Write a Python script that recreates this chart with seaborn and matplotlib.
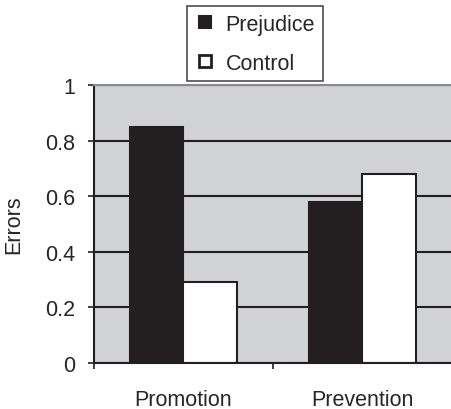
import matplotlib
matplotlib.use("Agg")
import matplotlib.pyplot as plt
from matplotlib.lines import Line2D
import seaborn as sns
import pandas as pd

categories = ["Promotion", "Prevention"]
series = ["Prejudice", "Control"]
prejudice = [0.85, 0.58]
control = [0.29, 0.68]
y_ticks = [0, 0.2, 0.4, 0.6, 0.8, 1]
y_tick_labels = ["0", "0.2", "0.4", "0.6", "0.8", "1"]

df = pd.DataFrame({
    "Condition": categories * 2,
    "Group": [series[0]] * 2 + [series[1]] * 2,
    "Errors": prejudice + control,
})

sns.set_style("white")
plt.rcParams["font.family"] = ["Liberation Sans", "DejaVu Sans"]

FS = 15.5
fig = plt.figure(figsize=(4.52, 4.10), dpi=100)
ax = fig.add_axes([94/452, 46/410, 358/452, 278/410])
ax.set_facecolor("#d1d2d4")

sns.barplot(data=df, x="Condition", y="Errors", hue="Group", order=categories,
            hue_order=series, palette={"Prejudice": "#231f20", "Control": "white"},
            width=0.6, gap=0, edgecolor="#231f20", linewidth=1.5, ax=ax,
            legend=False, saturation=1)

ax.set_xlim(-0.5, 1.5)
ax.set_ylim(0, 1)
ax.set_yticks(y_ticks)
ax.set_yticklabels(y_tick_labels)
ax.set_axisbelow(True)
ax.yaxis.grid(True, color="#231f20", linewidth=1.5)
ax.tick_params(axis="y", direction="out", length=4.5, width=1.2, color="#231f20",
               pad=9, labelsize=FS, left=True)
ax.set_xticks([0, 1])
ax.set_xticks([-0.5, 0.5, 1.5], minor=True)
ax.tick_params(axis="x", which="major", length=0, pad=19, labelsize=FS)
ax.tick_params(axis="x", which="minor", direction="out", length=4.5, width=1.2,
               color="#231f20", bottom=True)
ax.set_xlabel("")
ax.set_ylabel("Errors", fontsize=FS, labelpad=15)

for s in ["left", "bottom"]:
    ax.spines[s].set_color("#231f20")
    ax.spines[s].set_linewidth(1.5)
ax.spines["top"].set_color("#8a8a8a")
ax.spines["top"].set_linewidth(1.5)
ax.spines["right"].set_visible(False)

handles = [
    Line2D([], [], linestyle="none", marker="s", markersize=9,
           markerfacecolor="#231f20", markeredgecolor="#231f20", markeredgewidth=1.5),
    Line2D([], [], linestyle="none", marker="s", markersize=8.5,
           markerfacecolor="white", markeredgecolor="#231f20", markeredgewidth=2.0),
]
leg = fig.legend(handles, series, loc="upper left",
                 bbox_to_anchor=(187/452, 1 - 7/410), fontsize=FS,
                 frameon=True, fancybox=False, edgecolor="#231f20",
                 handlelength=1.0, handletextpad=0.45, labelspacing=0.85,
                 borderpad=0.35, borderaxespad=0)
leg.get_frame().set_linewidth(1.2)

fig.savefig("out.png", dpi=100)
